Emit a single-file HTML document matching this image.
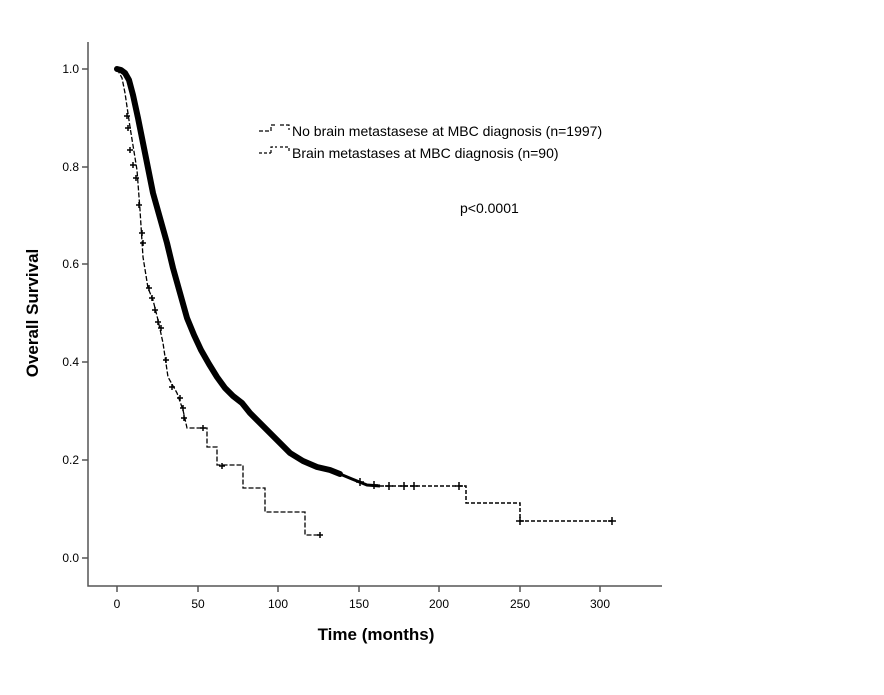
<!DOCTYPE html>
<html><head><style>body{margin:0;background:#fff}svg{display:block}</style></head>
<body>
<svg width="884" height="695" xmlns="http://www.w3.org/2000/svg" font-family="Liberation Sans, sans-serif">
<rect width="884" height="695" fill="#fff"/>
<g stroke="#555" stroke-width="1.5" fill="none">
<path d="M88 42V586H662"/>
<path d="M82 69H88M82 167H88M82 264H88M82 362H88M82 460H88M82 558H88"/>
<path d="M117 586V592M198 586V592M278 586V592M359 586V592M439 586V592M520 586V592M600 586V592"/>
</g>
<g font-size="12" fill="#000" text-anchor="end">
<text x="79" y="73">1.0</text><text x="79" y="171">0.8</text><text x="79" y="268">0.6</text>
<text x="79" y="366">0.4</text><text x="79" y="464">0.2</text><text x="79" y="562">0.0</text>
</g>
<g font-size="12" fill="#000" text-anchor="middle">
<text x="117" y="608">0</text><text x="198" y="608">50</text><text x="278" y="608">100</text><text x="359" y="608">150</text>
<text x="439" y="608">200</text><text x="520" y="608">250</text><text x="600" y="608">300</text>
</g>
<text x="376" y="640" font-size="17" font-weight="bold" text-anchor="middle">Time (months)</text>
<text transform="translate(38,313) rotate(-90)" font-size="17" font-weight="bold" text-anchor="middle">Overall Survival</text>
<polyline fill="none" stroke="#000" stroke-width="6" stroke-linejoin="round" stroke-linecap="round" points="117,69 121,70 125,73 129,80 133,95 138,118 143,143 148,168 153,193 160,218 167,243 173,268 180,293 187,318 194,335 201,350 209,364 217,377 225,388 233,396 242,403 250,413 258,421 267,430 280,443 290,453 303,461 317,467 330,470 340,474"/>
<polyline fill="none" stroke="#000" stroke-width="3" points="340,474 352,479 367,485 380,486"/>
<polyline fill="none" stroke="#000" stroke-width="1.5" stroke-dasharray="4,2" points="380,486 466,486 466,503 520,503 520,521 612,521"/>
<g stroke="#000" stroke-width="1.5">
<path d="M356 482h8M360 478v8M370 485h8M374 481v8M385 486h8M389 482v8M400 486h8M404 482v8M410 486h8M414 482v8M455 486h8M459 482v8M516 521h8M520 517v8M608 521h8M612 517v8"/>
</g>
<polyline fill="none" stroke="#000" stroke-width="1.3" stroke-dasharray="5,2" points="117,69 122,78 125,93 130,127 137,170 140,210 143,257 148,288 153,300 158,320 163,343 168,377 177,393 183,410 187,428 207,428 207,447 217,447 217,465 243,465 243,488 265,488 265,512 305,512 305,535 320,535"/>
<g stroke="#000" stroke-width="1.5">
<path d="M124 116h6M127 113v6M125 128h6M128 125v6M127 150h6M130 147v6M130 165h6M133 162v6M133 178h6M136 175v6M136 205h6M139 202v6M139 233h6M142 230v6M140 243h6M143 240v6M146 288h6M149 285v6M149 298h6M152 295v6M152 310h6M155 307v6M155 322h6M158 319v6M158 328h6M161 325v6M163 360h6M166 357v6M169 387h6M172 384v6M177 398h6M180 395v6M180 408h6M183 405v6M181 418h6M184 415v6M200 428h6M203 425v6M219 466h6M222 463v6M317 535h6M320 532v6"/>
</g>
<g fill="none" stroke="#000" stroke-width="1.2">
<path d="M259 131h12M271 131v-6h6M280 125h9v5" stroke-dasharray="4,2"/>
<path d="M259 153h12M271 153v-6h6M280 147h9v5" stroke-dasharray="3,2"/>
</g>
<g font-size="14" fill="#000">
<text x="292" y="136">No brain metastasese at MBC diagnosis (n=1997)</text>
<text x="292" y="158">Brain metastases at MBC diagnosis (n=90)</text>
<text x="460" y="213">p&lt;0.0001</text>
</g>
</svg>
</body></html>
